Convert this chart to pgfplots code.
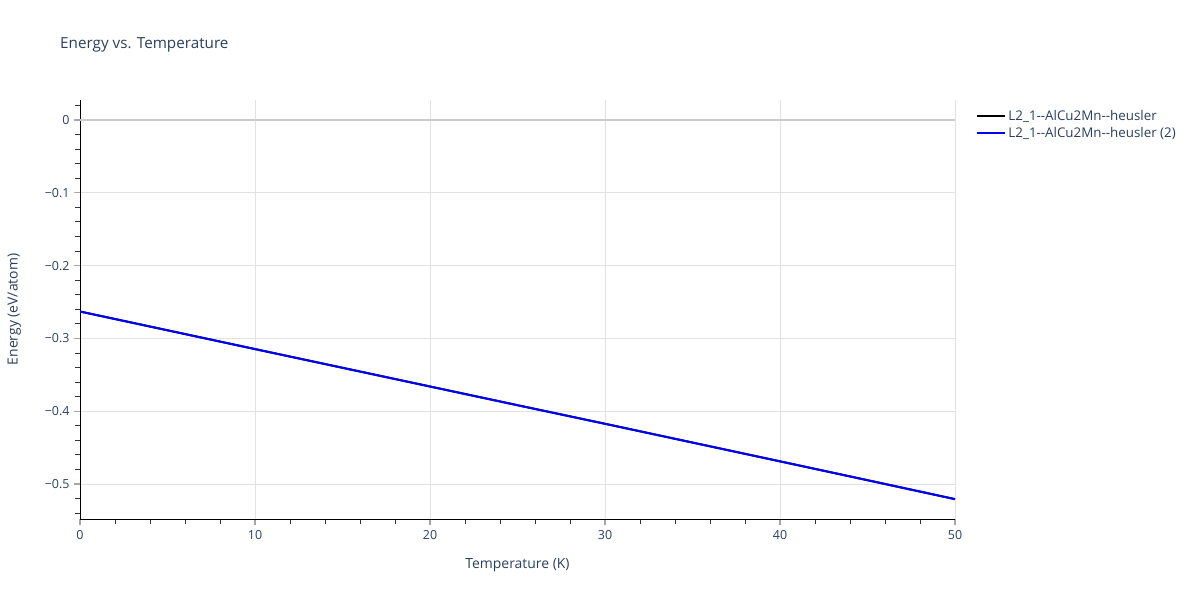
\documentclass[border=0pt]{standalone}
\usepackage{pgfplots}
\pgfplotsset{compat=1.18}
\usepackage{fontspec}
\setmainfont{Open Sans}
\definecolor{txt}{HTML}{2A3F5F}
\definecolor{gridc}{HTML}{E2E2E2}
\definecolor{zeroc}{HTML}{CCCCCC}
\begin{document}
\begin{tikzpicture}
\path[use as bounding box] (0bp,0bp) rectangle (1200bp,-600bp);
\node[anchor=west,inner sep=0pt,text=txt,font=\fontsize{15.3}{18}\selectfont] at (60bp,-45bp) {Energy vs. Temperature};
\begin{axis}[
  at={(80bp,-519bp)}, anchor=south west,
  width=875bp, height=419bp, scale only axis,
  xmin=0, xmax=50, ymin=-0.548, ymax=0.0275,
  axis lines*=left,
  axis line style={black, line width=1bp},
  xtick={0,10,20,30,40,50},
  minor xtick={2,4,6,8,12,14,16,18,22,24,26,28,32,34,36,38,42,44,46,48},
  ytick={-0.5,-0.4,-0.3,-0.2,-0.1,0},
  yticklabels={−0.5,−0.4,−0.3,−0.2,−0.1,0},
  minor ytick={-0.54,-0.52,-0.48,-0.46,-0.44,-0.42,-0.38,-0.36,-0.34,-0.32,-0.28,-0.26,-0.24,-0.22,-0.18,-0.16,-0.14,-0.12,-0.08,-0.06,-0.04,-0.02,0.02},
  tick align=outside,
  major tick length=6bp, minor tick length=5bp,
  major tick style={gray!70, line width=1.2bp},
  minor tick style={black!80, line width=1bp},
  grid=major,
  major grid style={gridc, line width=1bp},
  /pgf/number format/assume math mode=true,
  ticklabel style={text=txt, font=\fontsize{12.5}{14}\selectfont},
  xticklabel style={yshift=-2bp},
  yticklabel style={xshift=-1bp},
  xlabel={Temperature (K)},
  ylabel={Energy (eV/atom)},
  label style={text=txt, font=\fontsize{14}{16}\selectfont},
  xlabel style={yshift=-12bp},
  ylabel style={yshift=17bp},
  legend style={at={(1.022,0.985)}, anchor=north west, draw=none, fill=none,
    font=\fontsize{13.4}{15}\selectfont, text=txt, row sep=1.5bp, inner sep=2bp},
  legend cell align=left,
  legend image code/.code={\draw[#1] (0bp,0bp) -- (28bp,0bp);},
  clip=true,
]
\addplot[zeroc, line width=2bp, forget plot] coordinates {(0,0) (50,0)};
\addplot[black, line width=2bp] coordinates {
(0,-0.2630) (5,-0.2888) (10,-0.3146) (15,-0.3403) (20,-0.3660) (25,-0.3917) (30,-0.4172) (35,-0.4430) (40,-0.4688) (45,-0.4947) (50,-0.5207)};
\addlegendentry{L2\_1-{}-AlCu2Mn-{}-heusler}
\addplot[blue, line width=2bp] coordinates {
(0,-0.2630) (5,-0.2888) (10,-0.3146) (15,-0.3403) (20,-0.3660) (25,-0.3917) (30,-0.4172) (35,-0.4430) (40,-0.4688) (45,-0.4947) (50,-0.5207)};
\addlegendentry{L2\_1-{}-AlCu2Mn-{}-heusler (2)}
\end{axis}
\end{tikzpicture}
\end{document}
